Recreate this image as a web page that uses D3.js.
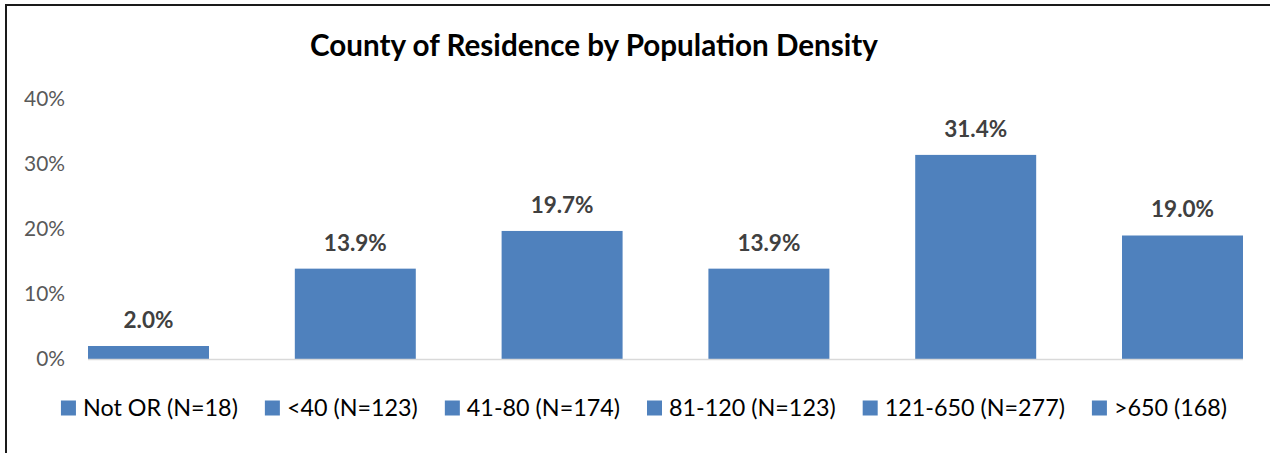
<!DOCTYPE html>
<html>
<head>
<meta charset="utf-8">
<script src="https://cdn.jsdelivr.net/npm/d3@7"></script>
<style>
  body { margin: 0; background: #fff; }
  text { font-family: Lato, "Noto Sans", sans-serif; }
</style>
</head>
<body>
<div id="chart"></div>
<script>
// chart values
var categories = ["Not OR (N=18)", "<40 (N=123)", "41-80 (N=174)", "81-120 (N=123)", "121-650 (N=277)", ">650 (168)"];
var shares = [2.0, 13.9, 19.7, 13.9, 31.4, 19.0];
var yTicks = [0, 10, 20, 30, 40];
var chartTitle = "County of Residence by Population Density";

var W = 1270, H = 453;
var barColor = "#4F81BD";

var svg = d3.select("#chart").append("svg")
    .attr("width", W)
    .attr("height", H);

// frame (right / bottom edges fall outside the picture)
svg.append("rect")
    .attr("x", 6).attr("y", 5)
    .attr("width", W + 20).attr("height", H + 20)
    .attr("fill", "none")
    .attr("stroke", "#1a1a1a")
    .attr("stroke-width", 2);

// scale a font-size so a sample string gets a target width
function fitSize(sample, weight, target) {
    var t = svg.append("text").attr("font-size", 20).attr("font-weight", weight).text(sample);
    var w = t.node().getComputedTextLength();
    t.remove();
    return 20 * target / w;
}

var x = d3.scaleBand()
    .domain(categories)
    .range([45.1, 1285.9])
    .paddingInner(0.415)
    .paddingOuter(0.2075);

var y = d3.scaleLinear()
    .domain([0, 40])
    .range([359, 99]);

// title
svg.append("text")
    .attr("x", 594).attr("y", 46)
    .attr("dy", "0.35em")
    .attr("text-anchor", "middle")
    .attr("font-weight", "bold")
    .attr("font-size", fitSize(chartTitle, "bold", 568))
    .attr("fill", "#000")
    .text(chartTitle);

// y axis labels
var tickSize = fitSize("40%", "normal", 41);
var yAxis = d3.axisLeft(y)
    .tickValues(yTicks)
    .tickFormat(function(d) { return d + "%"; })
    .tickSize(0)
    .tickPadding(0);

var gy = svg.append("g")
    .attr("transform", "translate(65,0)")
    .call(yAxis);
gy.select(".domain").remove();
gy.selectAll("text")
    .attr("font-family", "Lato, 'Noto Sans', sans-serif")
    .attr("font-size", tickSize)
    .attr("fill", "#595959");

// bars
svg.selectAll(".bar")
    .data(shares)
    .enter().append("rect")
    .attr("class", "bar")
    .attr("x", function(d, i) { return x(categories[i]); })
    .attr("width", x.bandwidth())
    .attr("y", function(d) { return y(d); })
    .attr("height", function(d) { return y(0) - y(d); })
    .attr("fill", barColor);

// category axis line
svg.append("line")
    .attr("x1", x(categories[0]))
    .attr("x2", x(categories[categories.length - 1]) + x.bandwidth())
    .attr("y1", y(0) + 0.5).attr("y2", y(0) + 0.5)
    .attr("stroke", "#D9D9D9")
    .attr("stroke-width", 1.5);

// data labels
var labelSize = fitSize("31.4%", "bold", 63);
svg.selectAll(".label")
    .data(shares)
    .enter().append("text")
    .attr("class", "label")
    .attr("x", function(d, i) { return x(categories[i]) + x.bandwidth() / 2; })
    .attr("y", function(d) { return y(d) - 26; })
    .attr("dy", "0.35em")
    .attr("text-anchor", "middle")
    .attr("font-weight", "bold")
    .attr("font-size", labelSize)
    .attr("fill", "#404040")
    .text(function(d) { return d.toFixed(1) + "%"; });

// legend
var legendSize = fitSize(categories[0], "normal", 155);
var legend = svg.append("g").attr("transform", "translate(0,408)");
var sw = 15, swGap = 7, itemGap = 27;

var items = legend.selectAll(".item")
    .data(categories)
    .enter().append("g")
    .attr("class", "item");

items.append("rect")
    .attr("y", -sw / 2)
    .attr("width", sw).attr("height", sw)
    .attr("fill", barColor);

items.append("text")
    .attr("x", sw + swGap)
    .attr("dy", "0.35em")
    .attr("font-size", legendSize)
    .attr("fill", "#000")
    .text(function(d) { return d; });

var cursor = 0, offsets = [];
items.each(function() {
    offsets.push(cursor);
    cursor += sw + swGap + d3.select(this).select("text").node().getComputedTextLength() + itemGap;
});
var total = cursor - itemGap;
var startX = 644 - total / 2;
items.attr("transform", function(d, i) { return "translate(" + (startX + offsets[i]) + ",0)"; });
</script>
</body>
</html>
